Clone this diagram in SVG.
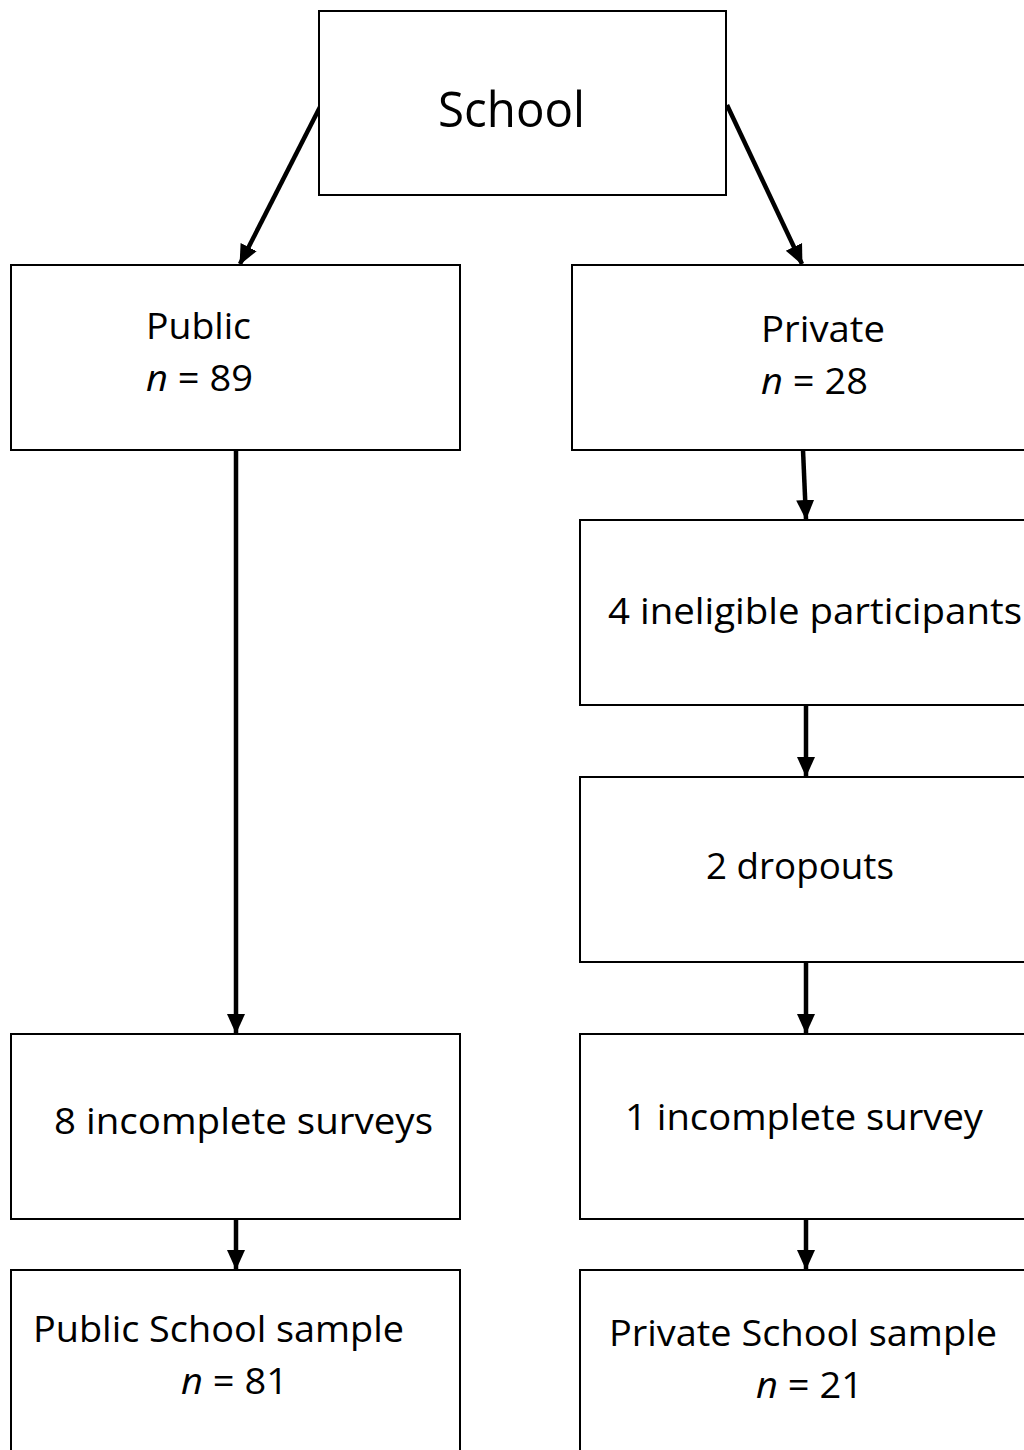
<svg xmlns="http://www.w3.org/2000/svg" width="1024" height="1450" viewBox="0 0 1024 1450">
<style>
.box{fill:#fff;stroke:#000;stroke-width:2}
.t{font-family:"Open Sans","Noto Sans","Liberation Sans",sans-serif;font-size:37px;fill:#000}
.big{font-size:50px}
.i{font-style:italic}
.c{fill:none;stroke:#000;stroke-width:4.5}
</style>
<defs>
<marker id="ah" markerUnits="userSpaceOnUse" markerWidth="20" markerHeight="20" viewBox="0 0 20 20" refX="19" refY="10" orient="auto">
<path d="M0,1 L20,10 L0,19 Z" fill="#000"/>
</marker>
</defs>
<rect width="1024" height="1450" fill="#fff"/>
<g id="connectors">
<line class="c" x1="320" y1="107" x2="240" y2="264" marker-end="url(#ah)"/>
<line class="c" x1="727" y1="105" x2="802" y2="264" marker-end="url(#ah)"/>
<line class="c" x1="236" y1="450" x2="236" y2="1033" marker-end="url(#ah)"/>
<line class="c" x1="803" y1="450" x2="806" y2="519" marker-end="url(#ah)"/>
<line class="c" x1="806" y1="705" x2="806" y2="776" marker-end="url(#ah)"/>
<line class="c" x1="806" y1="962" x2="806" y2="1033" marker-end="url(#ah)"/>
<line class="c" x1="236" y1="1219" x2="236" y2="1269" marker-end="url(#ah)"/>
<line class="c" x1="806" y1="1219" x2="806" y2="1269" marker-end="url(#ah)"/>
</g>
<g id="school">
<rect class="box" x="319" y="11" width="407" height="184"/>
<text class="t big" x="438" y="127" textLength="147" lengthAdjust="spacingAndGlyphs">School</text>
</g>
<g id="public">
<rect class="box" x="11" y="265" width="449" height="185"/>
<text class="t" x="146" y="339" textLength="105" lengthAdjust="spacingAndGlyphs">Public</text>
<text class="t" x="146" y="391" textLength="107" lengthAdjust="spacingAndGlyphs"><tspan class="i">n</tspan> = 89</text>
</g>
<g id="private">
<rect class="box" x="572" y="265" width="470" height="185"/>
<text class="t" x="761" y="342" textLength="124" lengthAdjust="spacingAndGlyphs">Private</text>
<text class="t" x="761" y="394" textLength="107" lengthAdjust="spacingAndGlyphs"><tspan class="i">n</tspan> = 28</text>
</g>
<g id="ineligible">
<rect class="box" x="580" y="520" width="462" height="185"/>
<text class="t" x="608" y="624" textLength="414" lengthAdjust="spacingAndGlyphs">4 ineligible participants</text>
</g>
<g id="dropouts">
<rect class="box" x="580" y="777" width="462" height="185"/>
<text class="t" x="706" y="879" textLength="188" lengthAdjust="spacingAndGlyphs">2 dropouts</text>
</g>
<g id="incomplete-public">
<rect class="box" x="11" y="1034" width="449" height="185"/>
<text class="t" x="54" y="1134" textLength="379" lengthAdjust="spacingAndGlyphs">8 incomplete surveys</text>
</g>
<g id="incomplete-private">
<rect class="box" x="580" y="1034" width="462" height="185"/>
<text class="t" x="625" y="1130" textLength="358" lengthAdjust="spacingAndGlyphs">1 incomplete survey</text>
</g>
<g id="public-sample">
<rect class="box" x="11" y="1270" width="449" height="200"/>
<text class="t" x="33" y="1342" textLength="371" lengthAdjust="spacingAndGlyphs">Public School sample</text>
<text class="t" x="181" y="1394" textLength="107" lengthAdjust="spacingAndGlyphs"><tspan class="i">n</tspan> = 81</text>
</g>
<g id="private-sample">
<rect class="box" x="580" y="1270" width="462" height="200"/>
<text class="t" x="609" y="1346" textLength="388" lengthAdjust="spacingAndGlyphs">Private School sample</text>
<text class="t" x="756" y="1398" textLength="107" lengthAdjust="spacingAndGlyphs"><tspan class="i">n</tspan> = 21</text>
</g>
</svg>
